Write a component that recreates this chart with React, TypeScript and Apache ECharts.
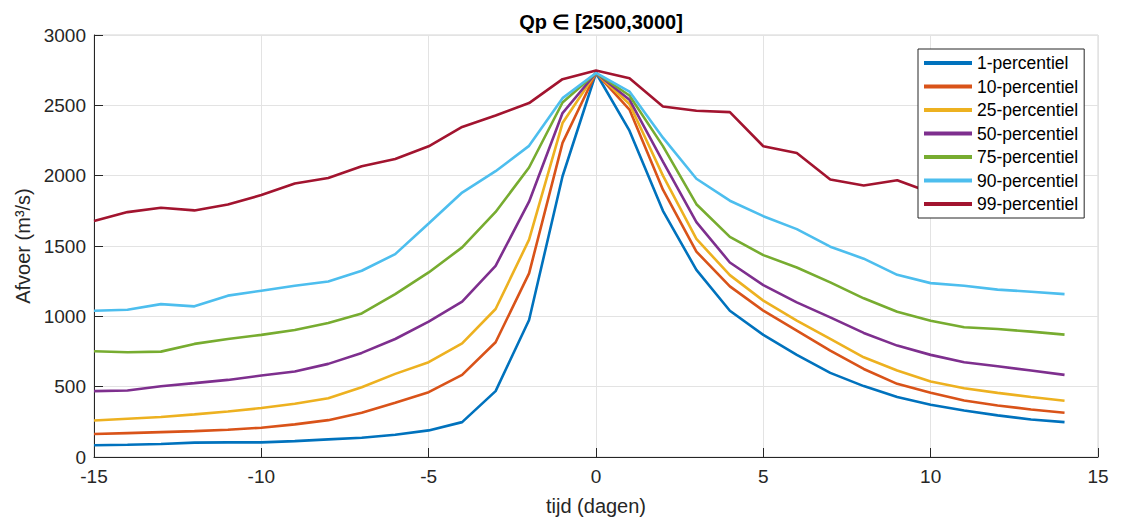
import React, { useEffect, useRef } from "react";
import * as echarts from "echarts";

const days = [-15, -14, -13, -12, -11, -10, -9, -8, -7, -6, -5, -4, -3, -2, -1, 0, 1, 2, 3, 4, 5, 6, 7, 8, 9, 10, 11, 12, 13, 14];

const p1 = [83, 87, 92, 102, 104, 104, 113, 125, 137, 158, 189, 248, 468, 974, 1996, 2730, 2320, 1750, 1330, 1040, 868, 726, 598, 504, 426, 371, 331, 296, 267, 248];
const p10 = [163, 170, 177, 184, 194, 208, 232, 262, 314, 385, 461, 584, 816, 1305, 2233, 2730, 2470, 1900, 1460, 1213, 1040, 898, 756, 626, 520, 456, 402, 366, 338, 314];
const p25 = [260, 272, 284, 303, 324, 348, 378, 418, 496, 591, 674, 808, 1052, 1545, 2374, 2730, 2510, 2000, 1550, 1293, 1111, 969, 839, 709, 615, 537, 489, 456, 426, 400];
const p50 = [468, 473, 503, 525, 548, 579, 608, 662, 740, 839, 962, 1104, 1359, 1815, 2445, 2730, 2540, 2100, 1670, 1383, 1222, 1099, 993, 882, 792, 726, 674, 645, 615, 584];
const p75 = [752, 745, 749, 804, 839, 868, 903, 953, 1021, 1158, 1312, 1490, 1742, 2058, 2520, 2730, 2570, 2210, 1797, 1565, 1435, 1347, 1241, 1128, 1033, 969, 922, 910, 891, 870];
const p90 = [1040, 1047, 1087, 1071, 1147, 1182, 1217, 1248, 1324, 1442, 1660, 1880, 2032, 2212, 2551, 2730, 2598, 2270, 1978, 1822, 1712, 1620, 1495, 1410, 1295, 1236, 1217, 1190, 1175, 1158];
const p99 = [1677, 1741, 1772, 1753, 1795, 1862, 1944, 1984, 2067, 2119, 2209, 2346, 2428, 2516, 2686, 2747, 2693, 2492, 2461, 2452, 2209, 2161, 1973, 1930, 1968, 1880, 1860, 1840, 1820, 1800];

const seriesNames = ["1-percentiel", "10-percentiel", "25-percentiel", "50-percentiel", "75-percentiel", "90-percentiel", "99-percentiel"];
const seriesValues = [p1, p10, p25, p50, p75, p90, p99];
const colors = ["#0072BD", "#D95319", "#EDB120", "#7E2F8E", "#77AC30", "#4DBEEE", "#A2142F"];

const xTicks = { min: -15, max: 15, interval: 5 };
const yTicks = { min: 0, max: 3000, interval: 500 };

const FONT = "'Liberation Sans', Arial, Helvetica, sans-serif";
const INK = "#262626";

export default function App() {
  const ref = useRef<HTMLDivElement>(null);
  useEffect(() => {
    if (!ref.current) return;
    const chart = echarts.init(ref.current, undefined, { renderer: "svg" });
    chart.setOption({
      animation: false,
      color: colors,
      title: {
        text: "Qp \u2208 [2500,3000]",
        left: 596,
        top: 7,
        textAlign: "center",
        textStyle: { fontFamily: FONT, fontSize: 20, fontWeight: "bold", color: "#000" },
      },
      grid: {
        left: 94,
        right: 27,
        top: 35,
        bottom: 63,
        show: true,
        borderColor: "#d4d4d4",
        borderWidth: 1,
        backgroundColor: "#fff",
      },
      legend: {
        orient: "vertical",
        left: 918,
        top: 49,
        backgroundColor: "#fff",
        borderColor: INK,
        borderWidth: 1,
        borderRadius: 0,
        padding: [5, 6, 5, 6],
        itemGap: 5.5,
        itemWidth: 48,
        itemHeight: 4,
        icon: "rect",
        data: seriesNames,
        textStyle: { fontFamily: FONT, fontSize: 17.5, color: "#000", lineHeight: 18 },
        selectedMode: false,
      },
      xAxis: {
        type: "value",
        min: xTicks.min,
        max: xTicks.max,
        interval: xTicks.interval,
        name: "tijd (dagen)",
        nameLocation: "middle",
        nameGap: 39,
        nameTextStyle: { fontFamily: FONT, fontSize: 20, color: INK },
        axisLine: { show: true, onZero: false, lineStyle: { color: INK, width: 1 } },
        axisTick: { show: true, inside: true, length: 9, lineStyle: { color: INK } },
        axisLabel: { fontFamily: FONT, fontSize: 19, color: INK, margin: 10, formatter: (v: number) => String(v) },
        splitLine: { show: true, lineStyle: { color: "#e3e3e3", width: 1 } },
      },
      yAxis: {
        type: "value",
        min: yTicks.min,
        max: yTicks.max,
        interval: yTicks.interval,
        name: "Afvoer (m\u00b3/s)",
        nameLocation: "middle",
        nameGap: 54,
        nameTextStyle: { fontFamily: FONT, fontSize: 20, color: INK },
        axisLine: { show: true, onZero: false, lineStyle: { color: INK, width: 1 } },
        axisTick: { show: true, inside: true, length: 9, lineStyle: { color: INK } },
        axisLabel: { fontFamily: FONT, fontSize: 19, color: INK, margin: 8, formatter: (v: number) => String(v) },
        splitLine: { show: true, lineStyle: { color: "#e3e3e3", width: 1 } },
      },
      series: seriesNames.map((name, i) => ({
        name,
        type: "line",
        showSymbol: false,
        symbol: "none",
        data: days.map((d, j) => [d, seriesValues[i][j]]),
        lineStyle: { width: 2.6, color: colors[i] },
        itemStyle: { color: colors[i] },
      })),
    });
    return () => chart.dispose();
  }, []);
  return <div ref={ref} style={{ position: "fixed", left: 0, top: 0, width: 1125, height: 521, background: "#fff" }} />;
}
